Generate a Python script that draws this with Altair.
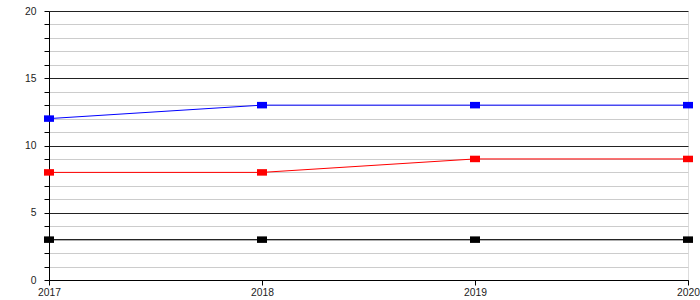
import altair as alt
import pandas as pd

years = [2017, 2018, 2019, 2020]
blue = [12, 13, 13, 13]
red = [8, 8, 9, 9]
black = [3, 3, 3, 3]
series_names = ["blue", "red", "black"]
series_colors = ["#0000ff", "#ff0000", "#000000"]

rows = []
for name, vals in zip(series_names, [blue, red, black]):
    for y, v in zip(years, vals):
        rows.append({"year": y, "value": v, "series": name})
df = pd.DataFrame(rows)

x = alt.X("year:Q", scale=alt.Scale(domain=[2017, 2020], nice=False),
          axis=alt.Axis(values=years, format="d", grid=False, title=None,
                        domainColor="black", tickColor="black", tickSize=5,
                        labelFont="Liberation Sans", labelFontSize=10.3, labelColor="#222",
                        labelPadding=2, labelFlush=False, labelOverlap=False))
y = alt.Y("value:Q", scale=alt.Scale(domain=[0, 20], nice=False),
          axis=alt.Axis(values=list(range(0, 21)), title=None,
                        labelExpr="datum.value % 5 === 0 ? datum.label : ''",
                        gridColor={"condition": {"test": "datum.value % 5 === 0", "value": "#222"}, "value": "#cccccc"},
                        domainColor="black", tickColor="black", tickSize=5,
                        labelFont="Liberation Sans", labelFontSize=10.3, labelColor="#222",
                        labelPadding=8, labelFlush=False, labelOverlap=False))
color = alt.Color("series:N", scale=alt.Scale(domain=series_names, range=series_colors), legend=None)

base = alt.Chart(df)
lines = base.mark_line(strokeWidth=1).encode(x=x, y=y, color=color, detail="series:N")
pts = base.mark_point(shape="M-1,-0.65L1,-0.65L1,0.65L-1,0.65Z", filled=True, opacity=1, size=100,
                      strokeWidth=0).encode(x=x, y=y, color=color)

chart = (lines + pts).properties(
    width=639, height=269,
    padding={"left": 49, "top": 11, "right": 12, "bottom": 20},
    autosize=alt.AutoSizeParams(type="none"),
).configure_view(stroke=None).configure(background="white")

chart.save("out.html", embed_options={"renderer": "svg", "actions": False})
